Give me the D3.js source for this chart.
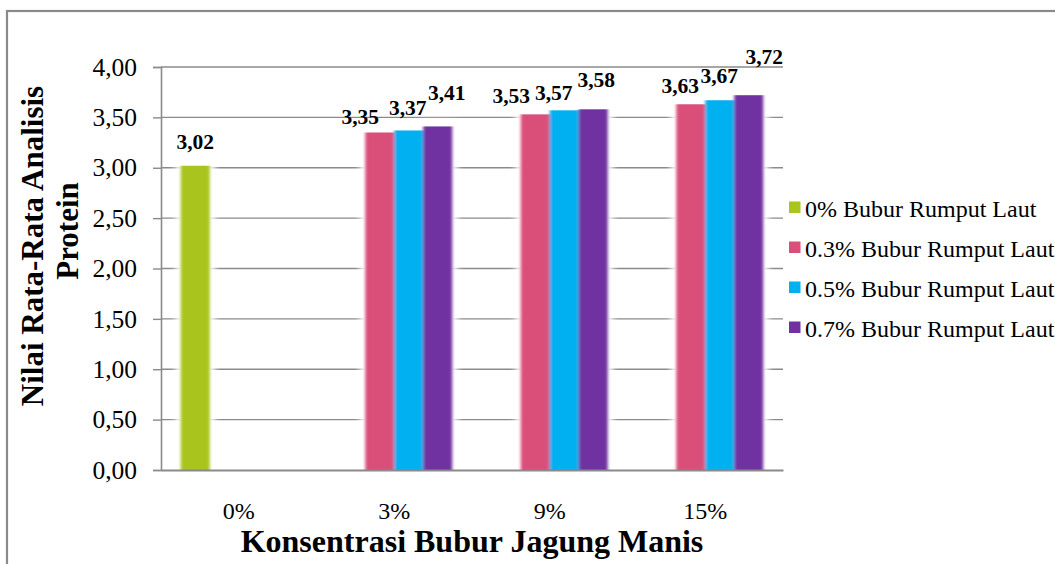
<!DOCTYPE html>
<html>
<head>
<meta charset="utf-8">
<script src="https://cdn.jsdelivr.net/npm/d3@7"></script>
<style>
  html, body { margin: 0; padding: 0; background: #fff; }
  svg { display: block; }
</style>
</head>
<body>
<svg id="chart" width="1055" height="564"></svg>
<script>
// Protein analysis: mean values per sweet-corn pulp concentration and seaweed pulp level
const categories = ["0%", "3%", "9%", "15%"];
const seriesNames = [
  "0% Bubur Rumput Laut",
  "0.3% Bubur Rumput Laut",
  "0.5% Bubur Rumput Laut",
  "0.7% Bubur Rumput Laut"
];
const seriesColors = ["#a9c41a", "#da4f79", "#00b0f0", "#7131a1"];
const rumputLaut0 = [3.02, null, null, null];
const rumputLaut03 = [null, 3.35, 3.53, 3.63];
const rumputLaut05 = [null, 3.37, 3.57, 3.67];
const rumputLaut07 = [null, 3.41, 3.58, 3.72];
const seriesValues = [rumputLaut0, rumputLaut03, rumputLaut05, rumputLaut07];
const yTicks = [0, 0.5, 1, 1.5, 2, 2.5, 3, 3.5, 4];
const yTitleLines = ["Nilai Rata-Rata Analisis", "Protein"];
const xTitle = "Konsentrasi Bubur Jagung Manis";

// hand-placed data label nudges [dx, dy], per series then per category
const labelNudges = [
  [[0, 0], null, null, null],
  [null, [-19.5, 8], [-24, 5.5], [-10.5, 5.5]],
  [null, [-1, 1], [-10.5, 6.5], [-0.5, -0.5]],
  [null, [9, -9.5], [3, -6], [15.5, -14.5]]
];

const svg = d3.select("#chart");
const serif = "'Liberation Serif', 'Times New Roman', serif";
const gridColor = "#8a8a8a";

const plot = { left: 161, right: 783, top: 67, bottom: 470 };

const x0 = d3.scaleBand()
  .domain(categories)
  .range([plot.left, plot.right])
  .paddingInner(0.254)
  .paddingOuter(0.127);

const x1 = d3.scaleBand()
  .domain(d3.range(seriesNames.length))
  .range([0, x0.bandwidth()]);

const y = d3.scaleLinear().domain([0, 4]).range([plot.bottom, plot.top]);

const defs = svg.append("defs");
defs.append("filter").attr("id", "soft")
  .attr("x", "-30%").attr("y", "-10%").attr("width", "160%").attr("height", "120%")
  .append("feGaussianBlur").attr("stdDeviation", "1.6 0.6");
defs.append("filter").attr("id", "halo")
  .attr("x", "-50%").attr("y", "-20%").attr("width", "200%").attr("height", "140%")
  .append("feGaussianBlur").attr("stdDeviation", 3);

// outer chart frame
svg.append("rect")
  .attr("x", 7).attr("y", 11)
  .attr("width", 1200).attr("height", 700)
  .attr("fill", "none")
  .attr("stroke", gridColor)
  .attr("stroke-width", 2.2);

// horizontal gridlines
svg.append("g")
  .selectAll("line")
  .data(yTicks.filter(d => d > 0))
  .join("line")
  .attr("x1", plot.left).attr("x2", plot.right)
  .attr("y1", d => y(d)).attr("y2", d => y(d))
  .attr("stroke", gridColor)
  .attr("stroke-width", 1.4);

// y axis with outside ticks
const yAxis = svg.append("g")
  .attr("transform", `translate(${plot.left},0)`)
  .call(d3.axisLeft(y)
    .tickValues(yTicks)
    .tickSize(8)
    .tickPadding(16)
    .tickFormat(d => d3.format(".2f")(d).replace(".", ",")));
yAxis.select(".domain").attr("stroke", gridColor).attr("stroke-width", 1.6);
yAxis.selectAll(".tick line").attr("stroke", gridColor).attr("stroke-width", 1.4);
yAxis.selectAll(".tick text")
  .attr("font-family", serif)
  .attr("font-size", 25.5)
  .attr("fill", "#000");

// flatten bars
const bars = [];
seriesValues.forEach((vals, s) => {
  vals.forEach((v, c) => {
    if (v !== null) bars.push({ s, c, v, nudge: labelNudges[s][c] });
  });
});

const barX = d => x0(categories[d.c]) + x1(d.s);

// white glow around the bars
svg.append("g")
  .attr("filter", "url(#halo)")
  .selectAll("rect")
  .data(bars)
  .join("rect")
  .attr("x", d => barX(d) - 5)
  .attr("y", d => y(d.v) - 5)
  .attr("width", x1.bandwidth() + 10)
  .attr("height", d => y(0) - y(d.v) + 5)
  .attr("fill", "#fff");

svg.append("g")
  .attr("filter", "url(#soft)")
  .selectAll("rect")
  .data(bars)
  .join("rect")
  .attr("x", barX)
  .attr("y", d => y(d.v))
  .attr("width", x1.bandwidth())
  .attr("height", d => y(0) - y(d.v))
  .attr("fill", d => seriesColors[d.s]);

// x axis baseline and category labels
const xAxis = svg.append("g")
  .attr("transform", `translate(0,${plot.bottom})`)
  .call(d3.axisBottom(x0).tickSize(0).tickPadding(0));
xAxis.select(".domain").attr("stroke", gridColor).attr("stroke-width", 1.8);
xAxis.selectAll(".tick text")
  .attr("font-family", serif)
  .attr("font-size", 24)
  .attr("fill", "#000")
  .attr("dy", null)
  .attr("y", 49);

// data labels
svg.append("g")
  .selectAll("text")
  .data(bars)
  .join("text")
  .attr("x", d => barX(d) + x1.bandwidth() / 2 + d.nudge[0])
  .attr("y", d => y(d.v) - 16.5 + d.nudge[1])
  .attr("text-anchor", "middle")
  .attr("font-family", serif)
  .attr("font-weight", "bold")
  .attr("font-size", 21.5)
  .attr("fill", "#000")
  .text(d => d3.format(".2f")(d.v).replace(".", ","));

// y axis title (two lines)
const yTitlePos = [{ x: 43, y: 246 }, { x: 78, y: 231 }];
svg.append("g")
  .selectAll("text")
  .data(yTitleLines)
  .join("text")
  .attr("transform", (d, i) => `translate(${yTitlePos[i].x},${yTitlePos[i].y}) rotate(-90)`)
  .attr("text-anchor", "middle")
  .attr("font-family", serif)
  .attr("font-weight", "bold")
  .attr("font-size", 31)
  .attr("fill", "#000")
  .text(d => d);

// x axis title
svg.append("text")
  .attr("x", 472)
  .attr("y", 552)
  .attr("text-anchor", "middle")
  .attr("font-family", serif)
  .attr("font-weight", "bold")
  .attr("font-size", 32)
  .attr("fill", "#000")
  .text(xTitle);

// legend
const legend = svg.append("g")
  .selectAll("g")
  .data(seriesNames)
  .join("g")
  .attr("transform", (d, i) => `translate(789,${201.5 + i * 40})`);
legend.append("rect")
  .attr("width", 11.5).attr("height", 11.5)
  .attr("fill", (d, i) => seriesColors[i]);
legend.append("text")
  .attr("x", 16)
  .attr("y", 15)
  .attr("font-family", serif)
  .attr("font-size", 24)
  .attr("fill", "#000")
  .text(d => d);
</script>
</body>
</html>
